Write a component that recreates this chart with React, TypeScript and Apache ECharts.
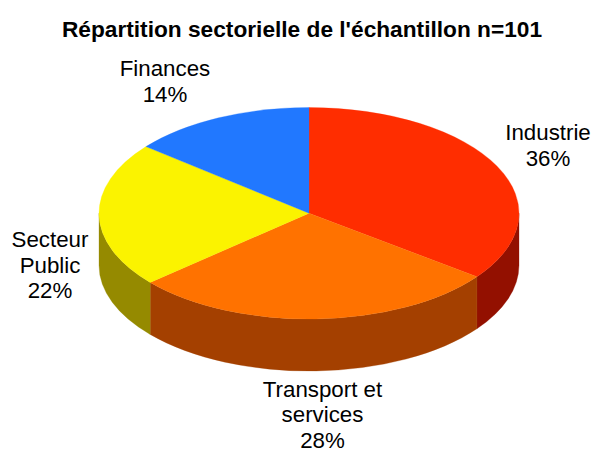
import React, { useEffect, useRef } from "react";
import * as echarts from "echarts";

const sectors = ["Industrie", "Transport et\nservices", "Secteur\nPublic", "Finances"];
const labelPercents = [36, 28, 22, 14];
// Slice sizes as measured on the drawing, in percent of the disc
const sliceShares = [35.25, 28.4, 22.2, 14.15];
const topColors = ["#ff2d00", "#ff7200", "#fbf300", "#2178ff"];
const sideColors = ["#931000", "#a44000", "#958a00", "#114099"];
const titleText = "Répartition sectorielle de l'échantillon n=101";

const CX = 309;
const CY = 213.25;
const RX = 210;
const RY = 105.75;
const DEPTH = 52;
const labelCenters = [
  [548, 145.5],
  [322.5, 414.5],
  [50, 265],
  [165, 81.5],
];

const px = (deg: number) => CX + RX * Math.sin((deg * Math.PI) / 180);
const py = (deg: number) => CY - RY * Math.cos((deg * Math.PI) / 180);

function topPath(a0: number, a1: number) {
  const large = a1 - a0 > 180 ? 1 : 0;
  return `M${CX} ${CY}L${px(a0)} ${py(a0)}A${RX} ${RY} 0 ${large} 1 ${px(a1)} ${py(a1)}Z`;
}

function sidePath(a0: number, a1: number) {
  const s = Math.max(a0, 90);
  const e = Math.min(a1, 270);
  if (e <= s) return null;
  const large = e - s > 180 ? 1 : 0;
  return (
    `M${px(s)} ${py(s)}A${RX} ${RY} 0 ${large} 1 ${px(e)} ${py(e)}` +
    `L${px(e)} ${py(e) + DEPTH}A${RX} ${RY} 0 ${large} 0 ${px(s)} ${py(s) + DEPTH}Z`
  );
}

export default function App() {
  const ref = useRef<HTMLDivElement>(null);
  useEffect(() => {
    const chart = echarts.init(ref.current!, null, { renderer: "svg" });
    const total = sliceShares.reduce((a, b) => a + b, 0);
    chart.setOption({
      animation: false,
      backgroundColor: "#ffffff",
      title: {
        text: titleText,
        left: 297,
        top: 12,
        textAlign: "center",
        textStyle: {
          fontFamily: "Liberation Sans",
          fontWeight: "bold",
          fontSize: 22.7,
          color: "#000000",
        },
      },
      series: [
        {
          type: "custom",
          coordinateSystem: "none",
          silent: true,
          data: sliceShares.map((v) => [v]),
          renderItem: (params: any, api: any) => {
            const i = params.dataIndex;
            const before = sliceShares.slice(0, i).reduce((a, b) => a + b, 0);
            const a0 = (before / total) * 360;
            const a1 = a0 + (api.value(0) / total) * 360;
            const children: any[] = [];
            const side = sidePath(a0, a1);
            if (side) {
              children.push({
                type: "path",
                shape: { pathData: side },
                style: { fill: sideColors[i], stroke: sideColors[i], lineWidth: 0.3 },
              });
            }
            children.push({
              type: "path",
              shape: { pathData: topPath(a0, a1) },
              style: { fill: topColors[i], stroke: topColors[i], lineWidth: 0.3 },
            });
            children.push({
              type: "text",
              style: {
                text: `${sectors[i]}\n${labelPercents[i]}%`,
                x: labelCenters[i][0],
                y: labelCenters[i][1],
                align: "center",
                verticalAlign: "middle",
                fontFamily: "Liberation Sans",
                fontSize: 22.3,
                lineHeight: 25.5,
                fill: "#000000",
              },
            });
            return { type: "group", children };
          },
        },
      ],
    });
    return () => chart.dispose();
  }, []);
  return (
    <div
      ref={ref}
      style={{ position: "fixed", left: 0, top: 0, width: 593, height: 449 }}
    />
  );
}
